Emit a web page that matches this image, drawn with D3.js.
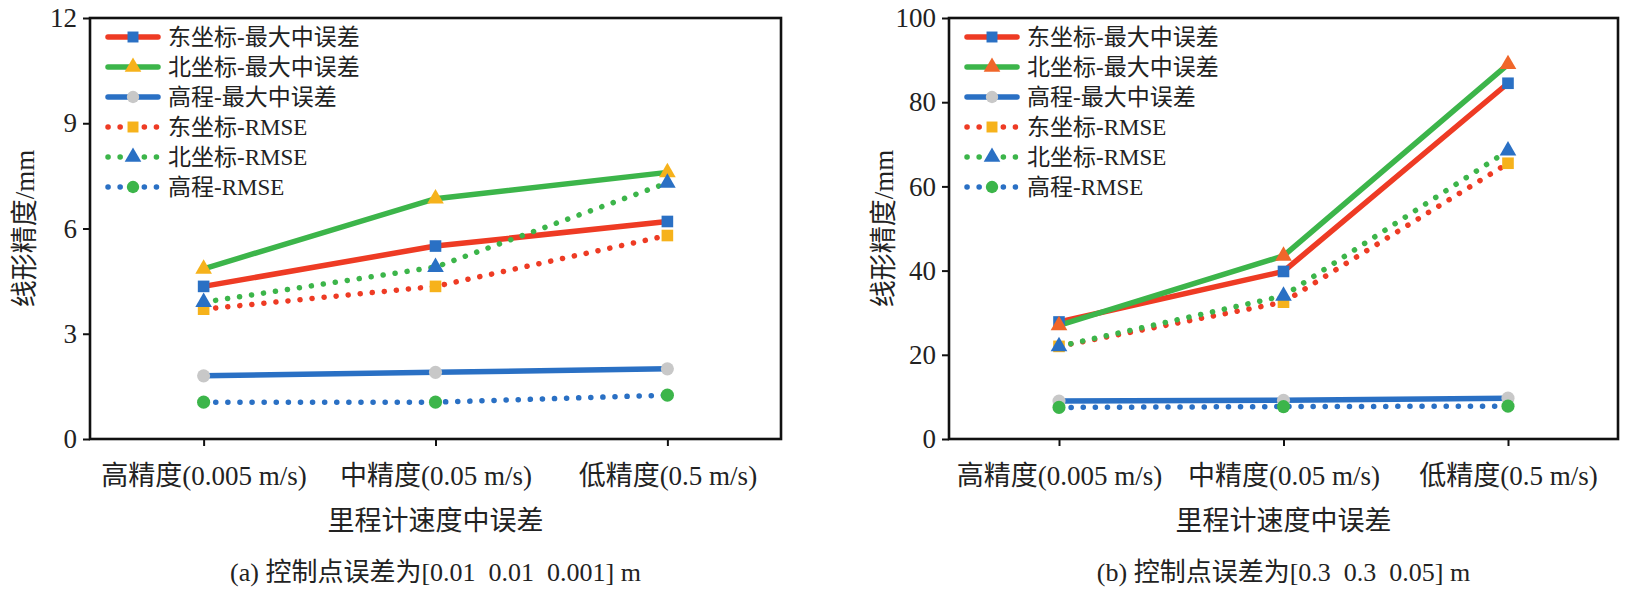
<!DOCTYPE html>
<html><head><meta charset="utf-8">
<script src="https://cdn.jsdelivr.net/npm/d3@7"></script>
<style>body{margin:0;background:#fff}text{font-family:"Liberation Serif","Noto Sans CJK SC",serif;fill:#222}</style>
</head><body><svg id="c" width="1646" height="598"></svg>
<script>
const categories = ['高精度(0.005 m/s)', '中精度(0.05 m/s)', '低精度(0.5 m/s)'];
const seriesNames = ['东坐标-最大中误差', '北坐标-最大中误差', '高程-最大中误差', '东坐标-RMSE', '北坐标-RMSE', '高程-RMSE'];
const valuesA = [
  [4.35, 5.5, 6.2], [4.85, 6.85, 7.6], [1.8, 1.9, 2.0],
  [3.7, 4.35, 5.8], [3.9, 4.9, 7.3], [1.05, 1.05, 1.25]
];
const valuesB = [
  [27.8, 39.8, 84.5], [27, 43.5, 89], [9, 9.2, 9.7],
  [22, 32.5, 65.5], [22, 34, 68.5], [7.5, 7.7, 7.8]
];
const ticksA = [0, 3, 6, 9, 12];
const ticksB = [0, 20, 40, 60, 80, 100];
const captions = ['(a) 控制点误差为[0.01  0.01  0.001] m', '(b) 控制点误差为[0.3  0.3  0.05] m'];

const lineColors = ['#ee3b24', '#3cb54a', '#2a70c4', '#ee3b24', '#3cb54a', '#2a70c4'];
const markerShapes = [d3.symbolSquare, d3.symbolTriangle, d3.symbolCircle, d3.symbolSquare, d3.symbolTriangle, d3.symbolCircle];
const markerColorsA = ['#2a70c4', '#f6b21b', '#c8c8c8', '#f6b21b', '#2a70c4', '#3cb54a'];
const markerColorsB = ['#2a70c4', '#f0662a', '#c8c8c8', '#f6b21b', '#2a70c4', '#3cb54a'];

const svg = d3.select('#c');

function panel(x0, x1, values, ticks, yMax, mColors, caption) {
  const top = 18, bottom = 439;
  const g = svg.append('g');
  const x = d3.scalePoint().domain(categories).range([x0, x1]).padding(0.49);
  const y = d3.scaleLinear().domain([0, yMax]).range([bottom, top]);

  g.append('rect').attr('x', x0).attr('y', top).attr('width', x1 - x0).attr('height', bottom - top)
    .attr('fill', 'none').attr('stroke', '#111').attr('stroke-width', 2.6);

  const ya = g.append('g').attr('transform', `translate(${x0},0)`)
    .call(d3.axisLeft(y).tickValues(ticks).tickSize(7).tickPadding(6));
  const xa = g.append('g').attr('transform', `translate(0,${bottom})`)
    .call(d3.axisBottom(x).tickSize(7).tickPadding(20));
  [ya, xa].forEach(a => {
    a.select('.domain').remove();
    a.selectAll('line').attr('stroke', '#111').attr('stroke-width', 2);
    a.selectAll('text').style('font-size', '27px').attr('fill', '#222');
  });

  const line = d3.line().x((d, i) => x(categories[i])).y(d => y(d));
  values.forEach((vals, s) => {
    const dotted = s >= 3;
    g.append('path').datum(vals).attr('d', line).attr('fill', 'none')
      .attr('stroke', lineColors[s]).attr('stroke-width', 5.5)
      .attr('stroke-linecap', 'round')
      .attr('stroke-dasharray', dotted ? '0.1 12' : null);
  });
  values.forEach((vals, s) => {
    g.selectAll(null).data(vals).join('path')
      .attr('transform', (d, i) => `translate(${x(categories[i])},${y(d)})`)
      .attr('d', d3.symbol(markerShapes[s], s % 3 === 1 ? 120 : 135))
      .attr('fill', mColors[s]);
  });

  // legend
  const lg = g.append('g').attr('transform', `translate(${x0 + 18},${top + 19})`);
  seriesNames.forEach((n, s) => {
    const yy = s * 30;
    const dotted = s >= 3;
    lg.append('line').attr('x1', 0).attr('x2', 50).attr('y1', yy).attr('y2', yy)
      .attr('stroke', lineColors[s]).attr('stroke-width', 5.5).attr('stroke-linecap', 'round')
      .attr('stroke-dasharray', dotted ? '0.1 12' : null);
    lg.append('path').attr('transform', `translate(25,${yy})`)
      .attr('d', d3.symbol(markerShapes[s], 120)).attr('fill', mColors[s]);
    lg.append('text').attr('x', 60).attr('y', yy + 8).style('font-size', '23px').text(n);
  });

  g.append('text').attr('transform', `translate(${x0 - 56},${(top + bottom) / 2}) rotate(-90)`)
    .attr('text-anchor', 'middle').style('font-size', '27px').text('线形精度/mm');
  g.append('text').attr('x', (x0 + x1) / 2).attr('y', 530).attr('text-anchor', 'middle')
    .style('font-size', '27px').text('里程计速度中误差');
  g.append('text').attr('x', (x0 + x1) / 2).attr('y', 581).attr('text-anchor', 'middle')
    .style('font-size', '26px').style('white-space', 'pre').text(caption);
}

panel(90, 781, valuesA, ticksA, 12, markerColorsA, captions[0]);
panel(949, 1618, valuesB, ticksB, 100, markerColorsB, captions[1]);
</script></body></html>
